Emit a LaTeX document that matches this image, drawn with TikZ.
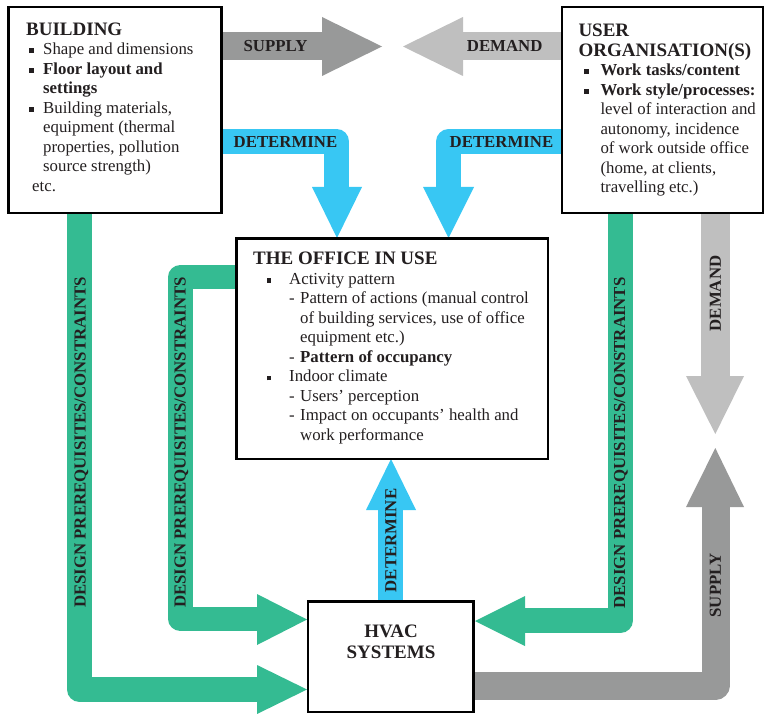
\documentclass[tikz,border=0pt]{standalone}
\usepackage{fontspec}
\setmainfont{Liberation Serif}
\definecolor{gr}{RGB}{52,187,146}
\definecolor{bl}{RGB}{56,199,243}
\definecolor{dg}{RGB}{152,153,153}
\definecolor{lg}{RGB}{191,191,191}
\definecolor{ink}{RGB}{35,31,32}
\pgfdeclarelayer{bg}
\pgfsetlayers{bg,main}
\newcommand{\Bb}{\makebox[17pt][l]{\hspace*{3.3pt}\rule[1.7pt]{5pt}{5pt}}}
\newcommand{\Bi}{\hspace*{17pt}}
\newcommand{\Ub}{\makebox[22pt][l]{\hspace*{5.3pt}\rule[1.7pt]{5pt}{5pt}}}
\newcommand{\Ui}{\hspace*{22pt}}
\newcommand{\Ob}{\makebox[36pt][l]{\hspace*{13.7pt}\rule[1.5pt]{4.5pt}{4.5pt}}}
\newcommand{\Od}{\hspace*{36pt}\makebox[11pt][l]{-}}
\newcommand{\Oi}{\hspace*{47pt}}
\newcommand{\hd}{\fontsize{19}{19.5}\selectfont\bfseries}
\begin{document}
\begin{tikzpicture}[x=1pt,y=-1pt,
  box/.style={draw=black,line width=2.6pt,fill=white,inner sep=0pt},
  txt/.style={inner sep=0pt,align=left,text=ink,anchor=north west,
    font=\fontsize{16.8}{19.5}\selectfont},
  lbl/.style={inner sep=0pt,text=ink,font=\fontsize{16.8}{19}\selectfont\bfseries},
  shaft/.style={line cap=butt,line join=round}]
\useasboundingbox (0,0) rectangle (765,714);
% boxes
\node[box,minimum width=212.6pt,minimum height=205.8pt] (bld) at (115,110.1) {};
\node[box,minimum width=201pt,minimum height=206pt] (usr) at (662.5,110) {};
\node[box,minimum width=311.8pt,minimum height=220.3pt] (off) at (392.1,348.9) {};
\node[box,minimum width=165.3pt,minimum height=110.7pt] (hvac) at (390.7,656.7) {};
\begin{pgfonlayer}{bg}
% top supply
\draw[shaft,dg,line width=28pt] (bld.center |- 0,46) -- (323,46);
\fill[dg] (322,17) -- (382,46.5) -- (322,76) -- cycle;
% top demand
\draw[shaft,lg,line width=28pt] (usr.center |- 0,46) -- (462,46);
\fill[lg] (463,17) -- (403,46.5) -- (463,76) -- cycle;
% determine left
\draw[shaft,bl,line width=25pt] (bld.center |- 0,141.5) -| (336.8,188);
\fill[bl] (312,187) -- (362,187) -- (337,238) -- cycle;
% determine right
\draw[shaft,bl,line width=25pt] (usr.center |- 0,141.5) -| (448.8,188);
\fill[bl] (423,187) -- (474,187) -- (448.5,238) -- cycle;
% determine bottom
\draw[shaft,bl,line width=25pt] (hvac.center -| 390.7,0) -- (390.7,509);
\fill[bl] (366,510) -- (416,510) -- (391,459) -- cycle;
% green outer left
\draw[shaft,gr,line width=25pt] (bld.center -| 79.5,0) |- (258,689.5);
\fill[gr] (257,665) -- (307,689.5) -- (257,714) -- cycle;
% green inner left
\draw[shaft,gr,line width=24.5pt] (off.center |- 0,277) -| (180.5,619) -- (258,619);
\fill[gr] (257,594) -- (307,619.5) -- (257,645) -- cycle;
% green right
\draw[shaft,gr,line width=25pt] (usr.center -| 620.5,0) |- (524,620.5);
\fill[gr] (525,596) -- (475,621) -- (525,646) -- cycle;
% demand right
\draw[shaft,lg,line width=29pt] (usr.center -| 715.5,0) -- (715.5,377);
\fill[lg] (686,376) -- (744,376) -- (715.3,434) -- cycle;
% supply right
\draw[shaft,dg,line width=28pt] (hvac.center |- 0,685.5) -| (715.5,506);
\fill[dg] (686,507) -- (744,507) -- (715.3,448) -- cycle;
\end{pgfonlayer}
% arrow labels
\node[lbl] (lsup) at (275.5,46.3) {SUPPLY};
\node[lbl] (ldem) at (504.7,46.3) {DEMAND};
\node[lbl] (ldetl) at (285.5,142.5) {DETERMINE};
\node[lbl] (ldetr) at (501.5,142.5) {DETERMINE};
\node[lbl,rotate=90] (ldesa) at (81.5,442.5) {DESIGN PREREQUISITES/CONSTRAINTS};
\node[lbl,rotate=90] (ldesb) at (181.5,442.5) {DESIGN PREREQUISITES/CONSTRAINTS};
\node[lbl,rotate=90] (ldesc) at (621,443) {DESIGN PREREQUISITES/CONSTRAINTS};
\node[lbl,rotate=90] (ldemv) at (715.3,293.5) {DEMAND};
\node[lbl,rotate=90] (lsupv) at (715.3,585.5) {SUPPLY};
\node[lbl,rotate=90] (ldetv) at (391,540.5) {DETERMINE};
% box texts
\node[txt] (tbld) at (26,22.5) {{\hd BUILDING}\\
\Bb Shape and dimensions\\
\Bb\textbf{Floor layout and}\\
\Bi\textbf{settings}\\
\Bb Building materials,\\
\Bi equipment (thermal\\
\Bi properties, pollution\\
\Bi source strength)\\
\hspace*{6pt}etc.};
\node[txt] (tusr) at (578.3,24) {{\hd USER}\\
{\hd ORGANISATION(S)}\\
\Ub\textbf{Work tasks/content}\\
\Ub\textbf{Work style/processes:}\\
\Ui level of interaction and\\
\Ui autonomy, incidence\\
\Ui of work outside office\\
\Ui (home, at clients,\\
\Ui travelling etc.)};
\node[txt] (toff) at (253,252) {{\hd THE OFFICE IN USE}\\
\Ob Activity pattern\\
\Od Pattern of actions (manual control\\
\Oi of building services, use of office\\
\Oi equipment etc.)\\
\Od\textbf{Pattern of occupancy}\\
\Ob Indoor climate\\
\Od Users’ perception\\
\Od Impact on occupants’ health and\\
\Oi work performance};
\node[inner sep=0pt,align=center,text=ink,anchor=north,
  font=\fontsize{19}{21}\selectfont\bfseries] (thv) at (391,624.4) {HVAC\\SYSTEMS};
\end{tikzpicture}
\end{document}
